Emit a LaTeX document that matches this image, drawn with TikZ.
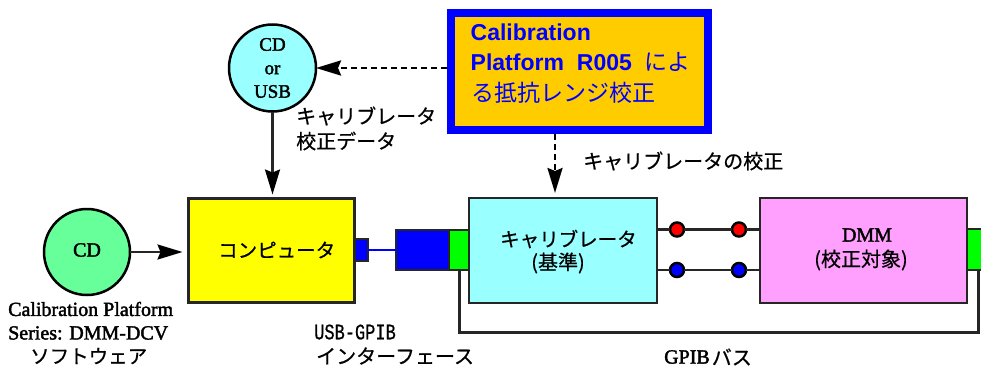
\documentclass[tikz,border=0pt]{standalone}
\usepackage{fontspec}
\usetikzlibrary{arrows.meta}
\setmainfont{Liberation Serif}
\newfontfamily\tb[FakeBold=2]{Liberation Serif}
\newfontfamily\jp[FakeBold=0.6]{Noto Sans CJK JP}
\newfontfamily\jpb{Noto Sans CJK JP}
\newfontfamily\hv{Liberation Sans}
\newfontfamily\mn[FakeBold=0.6]{Liberation Mono}
\definecolor{cdgreen}{HTML}{66FF99}
\definecolor{paleblue}{HTML}{99FFFF}
\definecolor{pink}{HTML}{FFA0FF}
\definecolor{amber}{HTML}{FFCC00}
\definecolor{pureyellow}{HTML}{FFFF00}
\tikzset{
  box/.style={draw=black!85,rectangle,inner sep=0,outer sep=0,line width=2.6pt},
  disc/.style={draw=black,circle,inner sep=0,outer sep=0,line width=2.5pt},
  dot/.style={draw=black,circle,inner sep=0,outer sep=0,line width=2.5pt,minimum size=14pt},
  wire/.style={line width=2.3pt,draw=black!85},
  thinwire/.style={line width=2.15pt,draw=black!85},
  dashwire/.style={line width=2.7pt,draw=black,dash pattern=on 6pt off 4pt},
  head/.style={-{Stealth[length=25pt,width=15pt,inset=3pt,black]}},
  lat/.style={inner sep=0,font=\fontsize{20}{22}\selectfont\tb,text=black},
  jap/.style={inner sep=0,font=\fontsize{20}{22}\selectfont\jp,text=black},
  japs/.style={inner sep=0,font=\fontsize{19.5}{22}\selectfont\jp,text=black},
  blu/.style={inner sep=0,anchor=west,text=blue},
}
\begin{document}
\begin{tikzpicture}[x=1pt,y=-1pt]
\clip (0,0) rectangle (981,367);
\fill[white] (0,0) rectangle (981,367);
% shapes
\node[disc,fill=cdgreen,minimum size=86pt] (cd) at (87,252) {};
\node[disc,fill=paleblue,minimum size=87pt] (usb) at (272.5,68) {};
\node[box,fill=pureyellow,line width=3.5pt,minimum width=166pt,minimum height=104pt] (comp) at (271.5,250.5) {};
\node[box,fill=blue,minimum width=13pt,minimum height=22pt] (plug) at (361.5,250) {};
\node[box,fill=blue,minimum width=53pt,minimum height=40pt] (gpibb) at (422.5,250) {};
\node[box,fill=green,minimum width=21pt,minimum height=40pt] (lg) at (459.5,250) {};
\node[box,fill=paleblue,minimum width=188pt,minimum height=105pt] (cal) at (563,250.5) {};
\node[box,fill=pink,minimum width=207pt,minimum height=105pt] (dmm) at (863.5,250.5) {};
\node[box,fill=green,minimum width=23pt,minimum height=41pt] (rg) at (978.5,249.5) {};
\node[draw=blue,line width=8pt,fill=amber,rectangle,inner sep=0,outer sep=4pt,minimum width=257pt,minimum height=117pt] (cp) at (579.5,71.5) {};
% free points
\coordinate (bus) at (600,332.5);
\coordinate (dn) at (555,134);
% wires
\draw[line width=1.7pt,blue] (plug.east) -- (gpibb.west);
\draw[thinwire] (lg.south) -- (lg.south |- bus) -- (rg.south |- bus) -- (rg.south);
\node[dot,fill=red] (r1) at (677,229.5) {};
\node[dot,fill=red] (r2) at (739,229.5) {};
\node[dot,fill=blue] (b1) at (677,270) {};
\node[dot,fill=blue] (b2) at (739,270) {};
\draw[wire] (r1 -| cal.east) -- (r1) (r1) -- (r2) (r2) -- (r2 -| dmm.west);
\draw[wire] (b1 -| cal.east) -- (b1) (b1) -- (b2) (b2) -- (b2 -| dmm.west);
% arrows
\draw[wire,head,shorten >=6pt] (cd.east) -- (cd.east -| comp.west);
\draw[wire,head,shorten >=4pt] (usb.south) -- (usb.south |- comp.north);
\draw[dashwire,head] (cp.west |- usb.east) -- (usb.east);
\draw[dashwire,head,shorten >=5pt] (dn) -- (dn |- cal.north);
% labels
\node[lat] (t1) at (87,250) {CD};
\node[lat,align=center,font=\fontsize{19}{23.5}\selectfont\tb] (t2) at (272.5,68) {CD\\or\\USB};
\node[jap,anchor=west] (t3) at (296,116) {キャリブレータ};
\node[jap,anchor=west] (t4) at (296,141) {校正データ};
\node[jap,anchor=west] (t5) at (583,161) {キャリブレータの校正};
\node[japs,anchor=west] (t6) at (218,250) {コンピュータ};
\node[lat,anchor=west] (t7) at (8,309) {Calibration Platform};
\node[lat,anchor=west] (t8) at (8,333) {Series: DMM-DCV};
\node[japs,anchor=west] (t9) at (30,356) {ソフトウェア};
\node[inner sep=0,anchor=west,yscale=1.3,transform shape,font=\fontsize{17}{20}\selectfont\mn,text=black] (t10) at (314,332) {USB-GPIB};
\node[jap,anchor=west] (t11) at (316,356) {インターフェース};
\node[japs,anchor=west] (t12) at (500,239) {キャリブレータ};
\node[jap] (t13) at (558,263) {(基準)};
\node[lat] (t14) at (867,235) {DMM};
\node[jap] (t15) at (861,260) {(校正対象)};
\node[lat,anchor=west] (t16) at (664,357) {GPIB};
\node[jap,anchor=east] (t17) at (752,357) {バス};
\node[blu,font=\fontsize{23}{25}\selectfont\hv\bfseries] (t18) at (470.5,32) {Calibration};
\node[blu,font=\fontsize{23}{25}\selectfont\hv\bfseries] (t19) at (470.5,62) {Platform\hspace{13pt}R005};
\node[blu,font=\fontsize{23}{25}\selectfont\jpb] (t20) at (644,62) {によ};
\node[blu,font=\fontsize{23}{25}\selectfont\jpb] (t21) at (471,93) {る抵抗レンジ校正};
\end{tikzpicture}
\end{document}
